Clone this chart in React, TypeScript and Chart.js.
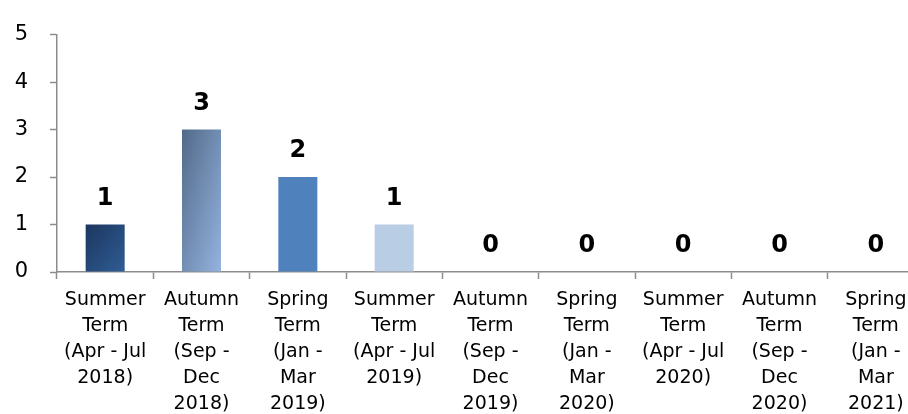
import React, { useEffect, useRef } from "react";
import { Chart, registerables } from "chart.js";

Chart.register(...registerables);

const categories: string[][] = [
  ["Summer", "Term", "(Apr - Jul", "2018)"],
  ["Autumn", "Term", "(Sep -", "Dec", "2018)"],
  ["Spring", "Term", "(Jan -", "Mar", "2019)"],
  ["Summer", "Term", "(Apr - Jul", "2019)"],
  ["Autumn", "Term", "(Sep -", "Dec", "2019)"],
  ["Spring", "Term", "(Jan -", "Mar", "2020)"],
  ["Summer", "Term", "(Apr - Jul", "2020)"],
  ["Autumn", "Term", "(Sep -", "Dec", "2020)"],
  ["Spring", "Term", "(Jan -", "Mar", "2021)"],
];
const values: number[] = [1, 3, 2, 1, 0, 0, 0, 0, 0];
const yTicks: number[] = [0, 1, 2, 3, 4, 5];

// gradient stops per bar: [top-left, bottom-right]
const barColors: [string, string][] = [
  ["#1c365f", "#2f5d95"],
  ["#526a89", "#94b3df"],
  ["#4f81bd", "#4f81bd"],
  ["#b9cde5", "#b9cde5"],
  ["#4f81bd", "#4f81bd"],
  ["#4f81bd", "#4f81bd"],
  ["#4f81bd", "#4f81bd"],
  ["#4f81bd", "#4f81bd"],
  ["#4f81bd", "#4f81bd"],
];

const BAR_PCT = 0.405;
const FONT = "'DejaVu Sans', sans-serif";

const valueLabels = {
  id: "valueLabels",
  afterDatasetsDraw(chart: any) {
    const ctx = chart.ctx;
    const meta = chart.getDatasetMeta(0);
    ctx.save();
    ctx.font = `bold 24px ${FONT}`;
    ctx.fillStyle = "#000";
    ctx.textAlign = "center";
    ctx.textBaseline = "middle";
    meta.data.forEach((bar: any, i: number) => {
      ctx.fillText(String(values[i]), bar.x, bar.y - 26);
    });
    ctx.restore();
  },
};

export default function App() {
  const ref = useRef<HTMLCanvasElement>(null);
  useEffect(() => {
    if (!ref.current) return;
    const chart = new Chart(ref.current, {
      type: "bar",
      data: {
        labels: categories,
        datasets: [
          {
            data: values,
            backgroundColor: (c: any) => {
              const ch = c.chart;
              const i = c.dataIndex;
              const pair = barColors[i] || ["#4f81bd", "#4f81bd"];
              const xs = ch.scales?.x;
              const ys = ch.scales?.y;
              if (!xs || !ys || i === undefined) return pair[0];
              const cx = xs.getPixelForValue(i);
              const step = xs.getPixelForValue(1) - xs.getPixelForValue(0);
              const top = ys.getPixelForValue(values[i]);
              const bottom = ys.getPixelForValue(0);
              const w = step * BAR_PCT;
              const h = bottom - top;
              if (![cx, top, bottom, w].every((v) => Number.isFinite(v)) || h < 1 || w < 1) return pair[0];
              const x0 = cx - w / 2;
              const t = (2 * w * h) / (h * h + w * w);
              const g = ch.ctx.createLinearGradient(x0, top, x0 + t * h, top + t * w);
              g.addColorStop(0, pair[0]);
              g.addColorStop(1, pair[1]);
              return g;
            },
            borderWidth: 0,
            barPercentage: BAR_PCT,
            categoryPercentage: 1,
          },
        ],
      },
      options: {
        animation: false,
        responsive: true,
        maintainAspectRatio: false,
        layout: { padding: { top: 24, left: 0, right: 0, bottom: 0 } },
        plugins: {
          legend: { display: false },
          tooltip: { enabled: false },
        },
        scales: {
          x: {
            offset: true,
            border: { display: true, color: "#8c8c8c", width: 1.5 },
            grid: {
              display: true,
              offset: true,
              drawOnChartArea: false,
              drawTicks: true,
              tickLength: 7,
              tickColor: "#8c8c8c",
              tickWidth: 1.5,
            },
            ticks: {
              color: "#000",
              font: { family: FONT, size: 19, lineHeight: 1.37 },
              padding: 8,
              maxRotation: 0,
              minRotation: 0,
              autoSkip: false,
            },
            afterFit: (s: any) => {
              s.height = 142;
            },
          },
          y: {
            min: 0,
            max: 5,
            afterBuildTicks: (s: any) => {
              s.ticks = yTicks.map((v) => ({ value: v }));
            },
            border: { display: true, color: "#8c8c8c", width: 1.5 },
            grid: {
              display: true,
              drawOnChartArea: false,
              drawTicks: true,
              tickLength: 7,
              tickColor: "#8c8c8c",
              tickWidth: 1.5,
            },
            ticks: {
              color: "#000",
              font: { family: FONT, size: 21 },
              padding: 22,
            },
            afterFit: (s: any) => {
              s.width = 57;
            },
          },
        },
      },
      plugins: [valueLabels],
    });
    return () => chart.destroy();
  }, []);
  return (
    <div
      style={{
        position: "fixed",
        left: 0,
        top: 0,
        width: 924,
        height: 414,
        background: "#fff",
      }}
    >
      <canvas ref={ref} />
    </div>
  );
}
